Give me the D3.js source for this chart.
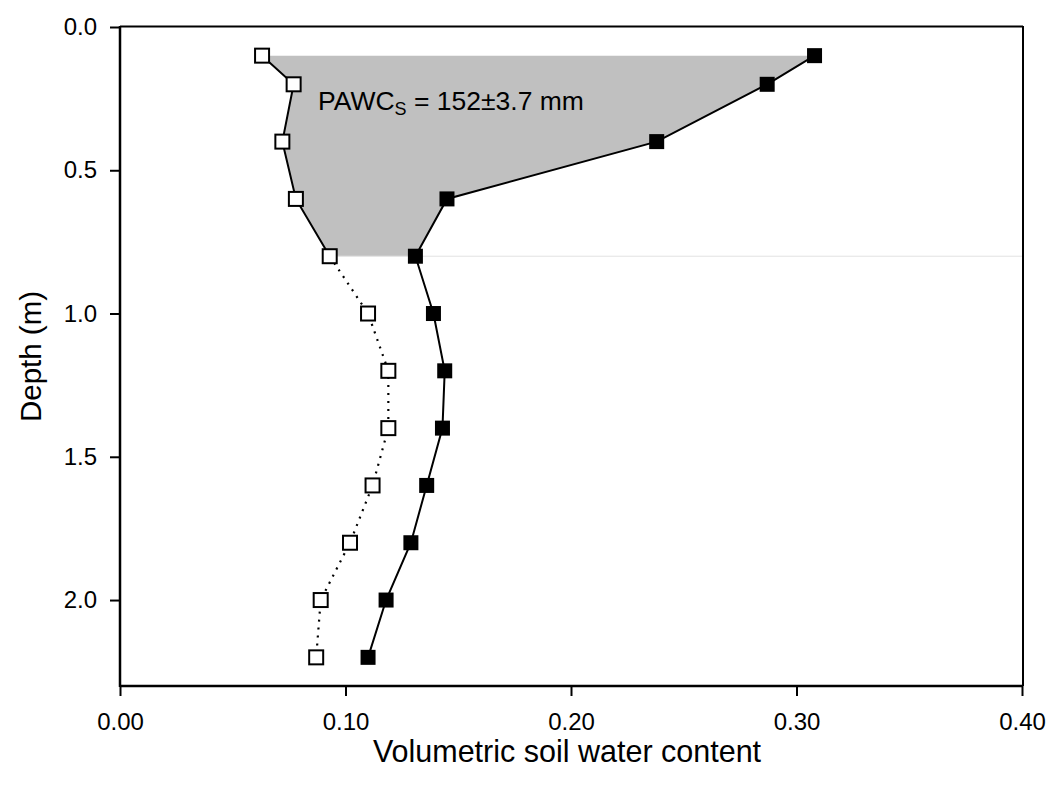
<!DOCTYPE html>
<html>
<head>
<meta charset="utf-8">
<script src="https://cdn.jsdelivr.net/npm/d3@7"></script>
<style>
  html, body { margin: 0; padding: 0; background: #fff; }
  svg { display: block; font-family: "Liberation Sans", Arial, sans-serif; }
</style>
</head>
<body>
<svg id="chart" width="1052" height="789"></svg>
<script>
// ---- data ----
const depths = [0.1, 0.2, 0.4, 0.6, 0.8, 1.0, 1.2, 1.4, 1.6, 1.8, 2.0, 2.2];
const lowerLimit = [0.063, 0.077, 0.072, 0.078, 0.093, 0.110, 0.119, 0.119, 0.112, 0.102, 0.089, 0.087];
const upperLimit = [0.308, 0.287, 0.238, 0.145, 0.131, 0.139, 0.144, 0.143, 0.136, 0.129, 0.118, 0.110];
const xTicks = [0.00, 0.10, 0.20, 0.30, 0.40];
const yTicks = [0.0, 0.5, 1.0, 1.5, 2.0];
const rootDepth = 0.8;
const annotation = "152±3.7 mm";

// ---- layout ----
const svg = d3.select("#chart");
const mLeft = 120, mRight = 1022, mTop = 27, mBottom = 686;
const x = d3.scaleLinear().domain([0, 0.40]).range([mLeft, mRight]);
const y = d3.scaleLinear().domain([0, 2.3]).range([mTop, mBottom]);

const lower = depths.map((d, i) => ({d, v: lowerLimit[i]}));
const upper = depths.map((d, i) => ({d, v: upperLimit[i]}));

// shaded PAWC region
const lowTop = lower.filter(p => p.d <= rootDepth);
const upTop = upper.filter(p => p.d <= rootDepth).slice().reverse();
const poly = lowTop.concat(upTop);
svg.append("path")
  .attr("d", d3.line().x(p => x(p.v)).y(p => y(p.d))(poly) + "Z")
  .attr("fill", "#c0c0c0").attr("stroke", "none");

// faint line at root depth
svg.append("line")
  .attr("x1", x(lowTop[lowTop.length - 1].v)).attr("x2", x(0.40))
  .attr("y1", y(rootDepth)).attr("y2", y(rootDepth))
  .attr("stroke", "#e2e2e2").attr("stroke-width", 1);

// frame (top & right)
svg.append("line").attr("x1", mLeft).attr("x2", mRight + 1).attr("y1", mTop - 0.5).attr("y2", mTop - 0.5)
  .attr("stroke", "#000").attr("stroke-width", 2);
svg.append("line").attr("x1", mRight + 1).attr("x2", mRight + 1).attr("y1", mTop - 1).attr("y2", mBottom)
  .attr("stroke", "#000").attr("stroke-width", 2);

// axes
const xAxis = svg.append("g").attr("transform", `translate(0,${mBottom})`)
  .call(d3.axisBottom(x).tickValues(xTicks).tickFormat(d3.format(".2f")).tickSize(10).tickPadding(17));
const yAxis = svg.append("g").attr("transform", `translate(${mLeft},0)`)
  .call(d3.axisLeft(y).tickValues(yTicks).tickFormat(d3.format(".1f")).tickSize(10).tickPadding(13));
[xAxis, yAxis].forEach(g => {
  g.attr("font-size", 24).attr("font-family", "'Liberation Sans', Arial, sans-serif");
  g.select(".domain").attr("stroke", "#000").attr("stroke-width", 2.5);
  g.selectAll(".tick line").attr("stroke", "#000").attr("stroke-width", 2);
  g.selectAll(".tick text").attr("fill", "#000");
});
xAxis.select(".domain").attr("d", `M${mLeft},0H${mRight + 1}`);
yAxis.select(".domain").attr("d", `M0,${mTop - 1}V${mBottom + 1}`);

// lines
const line = d3.line().x(p => x(p.v)).y(p => y(p.d));
svg.append("path").attr("d", line(upper)).attr("fill", "none")
  .attr("stroke", "#000").attr("stroke-width", 2);
svg.append("path").attr("d", line(lower.filter(p => p.d <= rootDepth))).attr("fill", "none")
  .attr("stroke", "#000").attr("stroke-width", 2);
svg.append("path").attr("d", line(lower.filter(p => p.d >= rootDepth))).attr("fill", "none")
  .attr("stroke", "#000").attr("stroke-width", 2.2).attr("stroke-dasharray", "2,6");

// markers
const s = 14;
svg.append("g").selectAll("rect").data(lower).join("rect")
  .attr("x", p => x(p.v) - s / 2).attr("y", p => y(p.d) - s / 2)
  .attr("width", s).attr("height", s)
  .attr("fill", "#fff").attr("stroke", "#000").attr("stroke-width", 2);
const f = 15;
svg.append("g").selectAll("rect").data(upper).join("rect")
  .attr("x", p => x(p.v) - f / 2).attr("y", p => y(p.d) - f / 2)
  .attr("width", f).attr("height", f)
  .attr("fill", "#000").attr("stroke", "none");

// annotation
const t = svg.append("text").attr("x", 318).attr("y", 110).attr("font-size", 26.5).attr("fill", "#000");
t.append("tspan").text("PAWC");
t.append("tspan").attr("font-size", 18).attr("dy", 5).text("S");
t.append("tspan").attr("dy", -5).text(" = " + annotation);

// axis titles
svg.append("text").attr("x", 567).attr("y", 762)
  .attr("text-anchor", "middle").attr("font-size", 30.5).attr("fill", "#000")
  .text("Volumetric soil water content");
svg.append("text").attr("transform", `translate(41,${(mTop + mBottom) / 2}) rotate(-90)`)
  .attr("text-anchor", "middle").attr("font-size", 29.5).attr("fill", "#000")
  .text("Depth (m)");
</script>
</body>
</html>
